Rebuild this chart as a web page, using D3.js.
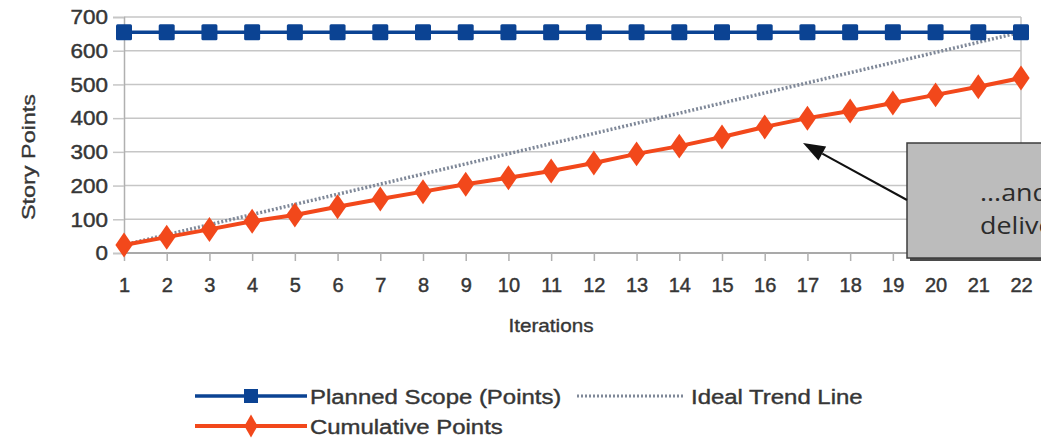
<!DOCTYPE html>
<html>
<head>
<meta charset="utf-8">
<script src="https://cdn.jsdelivr.net/npm/d3@7"></script>
<style>
  html, body { margin: 0; padding: 0; background: #fff; overflow: hidden; }
  svg { display: block; }
</style>
</head>
<body>
<svg id="chart" width="1041" height="439"></svg>
<script>
// Release burn-up: planned scope vs. cumulative delivered story points
const iterations = [1, 2, 3, 4, 5, 6, 7, 8, 9, 10, 11, 12, 13, 14, 15, 16, 17, 18, 19, 20, 21, 22];
const plannedScope = [655, 655, 655, 655, 655, 655, 655, 655, 655, 655, 655,
                      655, 655, 655, 655, 655, 655, 655, 655, 655, 655, 655];
const cumulativePoints = [24, 47, 70, 94, 113, 137, 160, 182, 204, 223, 243,
                          267, 294, 317, 344, 374, 400, 421, 445, 469, 493, 519];
// Ideal trend: straight line from the first iteration to the planned scope at the last
const idealTrendIterations = [1, 22];
const idealTrendValues = [24, 655];
const yTickValues = [0, 100, 200, 300, 400, 500, 600, 700];
const legendLabels = ["Planned Scope (Points)", "Ideal Trend Line", "Cumulative Points"];
const calloutLines = ["...and we\u2019re", "delivering"];

const plot = { left: 124, right: 1021, top: 17, bottom: 253 };
const BLUE = "#0b4393", RED = "#f2481b", TREND = "#7f8898";
const FONT = "'Liberation Sans', Arial, sans-serif";
const INK = "#363636";

const svg = d3.select("#chart");

const x = d3.scalePoint().domain(iterations).range([plot.left, plot.right]);
const y = d3.scaleLinear().domain([0, 700]).range([plot.bottom, plot.top]);

// slightly heavier text, like the anti-aliased original labels
function ink(sel, w) {
  return sel.attr("fill", INK).attr("stroke", INK).attr("stroke-width", w || 0.45);
}

// horizontal gridlines
svg.append("g").selectAll("line").data(yTickValues).join("line")
  .attr("x1", plot.left).attr("x2", plot.right)
  .attr("y1", d => y(d)).attr("y2", d => y(d))
  .attr("stroke", d => d === 0 ? "#a9a9a9" : "#c6c6c6")
  .attr("stroke-width", d => d === 0 ? 2 : 1.5);

// right border of the plot area
svg.append("line")
  .attr("x1", plot.right).attr("x2", plot.right)
  .attr("y1", plot.top).attr("y2", plot.bottom)
  .attr("stroke", "#c6c6c6").attr("stroke-width", 1.5);

// y axis
const yAxis = svg.append("g")
  .attr("transform", `translate(${plot.left},0)`)
  .call(d3.axisLeft(y).tickValues(yTickValues).tickSize(11).tickPadding(5));
yAxis.select(".domain").attr("stroke", "#b0b0b0").attr("stroke-width", 1.5);
yAxis.selectAll(".tick line").attr("stroke", "#c6c6c6").attr("stroke-width", 1.5);
ink(yAxis.selectAll(".tick text"))
  .attr("font-family", FONT).attr("font-size", 21)
  .attr("transform", "scale(1.07,1)").attr("x", -16 / 1.07);

// x axis
const xAxis = svg.append("g")
  .attr("transform", `translate(0,${plot.bottom})`)
  .call(d3.axisBottom(x).tickSize(8).tickPadding(0));
xAxis.select(".domain").remove();
xAxis.selectAll(".tick line").attr("stroke", "#b0b0b0").attr("stroke-width", 1.5);
ink(xAxis.selectAll(".tick text"))
  .attr("font-family", FONT).attr("font-size", 20)
  .attr("y", 25).attr("dy", "0.71em");

// axis titles
ink(svg.append("text"), 0.35)
  .attr("transform", "translate(29,157) rotate(-90) scale(1.3,1)")
  .attr("text-anchor", "middle").attr("dy", "0.35em")
  .attr("font-family", FONT).attr("font-size", 18)
  .text("Story Points");
ink(svg.append("text"), 0.35)
  .attr("transform", "translate(551,326) scale(1.15,1)")
  .attr("text-anchor", "middle").attr("dy", "0.35em")
  .attr("font-family", FONT).attr("font-size", 18)
  .text("Iterations");

// ideal trend line
const trendData = idealTrendIterations.map((it, i) => ({ it, v: idealTrendValues[i] }));
svg.append("path")
  .datum(trendData)
  .attr("d", d3.line().x(d => x(d.it)).y(d => y(d.v)))
  .attr("fill", "none").attr("stroke", TREND)
  .attr("stroke-width", 3.5).attr("stroke-dasharray", "2,2");

// planned scope
const plannedData = iterations.map((it, i) => ({ it, v: plannedScope[i] }));
svg.append("path")
  .datum(plannedData)
  .attr("d", d3.line().x(d => x(d.it)).y(d => y(d.v)))
  .attr("fill", "none").attr("stroke", BLUE).attr("stroke-width", 3.5);
svg.append("g").selectAll("rect").data(plannedData).join("rect")
  .attr("x", d => x(d.it) - 8).attr("y", d => y(d.v) - 8)
  .attr("width", 16).attr("height", 16).attr("rx", 1.5)
  .attr("fill", BLUE);

// cumulative delivered points
const cumData = iterations.map((it, i) => ({ it, v: cumulativePoints[i] }));
svg.append("path")
  .datum(cumData)
  .attr("d", d3.line().x(d => x(d.it)).y(d => y(d.v)))
  .attr("fill", "none").attr("stroke", RED).attr("stroke-width", 4);
const diamond = d3.symbol().type(d3.symbolDiamond).size(180);
svg.append("g").selectAll("path").data(cumData).join("path")
  .attr("transform", d => `translate(${x(d.it)},${y(d.v)}) scale(1.2,1)`)
  .attr("d", diamond).attr("fill", RED);

// callout box with arrow
const callout = svg.append("g");
callout.append("rect")
  .attr("x", 910).attr("y", 146).attr("width", 200).attr("height", 115)
  .attr("fill", "#4a4a4a");
callout.append("rect")
  .attr("x", 907).attr("y", 143).attr("width", 200).attr("height", 115)
  .attr("fill", "#bcbcbc").attr("stroke", "#3c3c3c").attr("stroke-width", 1.5);
callout.selectAll("text.callout").data(calloutLines).join("text")
  .attr("class", "callout")
  .attr("transform", (d, i) => `translate(980,${201 + i * 33}) scale(1.12,1)`)
  .attr("font-family", "'Open Sans', 'Noto Sans', sans-serif")
  .attr("font-size", 24).attr("fill", "#2b2b2b")
  .text(d => d);

const tail = [907, 200], tip = [803, 143];
const ang = Math.atan2(tip[1] - tail[1], tip[0] - tail[0]);
const headLen = 22, headHalf = 8;
const base = [tip[0] - headLen * Math.cos(ang), tip[1] - headLen * Math.sin(ang)];
callout.append("line")
  .attr("x1", tail[0]).attr("y1", tail[1]).attr("x2", base[0]).attr("y2", base[1])
  .attr("stroke", "#111").attr("stroke-width", 2);
callout.append("path")
  .attr("d", d3.line()([
    tip,
    [base[0] + headHalf * Math.sin(ang), base[1] - headHalf * Math.cos(ang)],
    [base[0] - headHalf * Math.sin(ang), base[1] + headHalf * Math.cos(ang)]
  ]) + "Z")
  .attr("fill", "#111");

// legend
const legend = svg.append("g");
function legendText(px, py, label) {
  ink(legend.append("text"), 0.4)
    .attr("transform", `translate(${px},${py}) scale(1.14,1)`)
    .attr("dy", "0.36em")
    .attr("font-family", FONT).attr("font-size", 21)
    .text(label);
}
const row1 = 396, row2 = 426;
legend.append("line").attr("x1", 195).attr("x2", 307).attr("y1", row1).attr("y2", row1)
  .attr("stroke", BLUE).attr("stroke-width", 3.5);
legend.append("rect").attr("x", 244).attr("y", row1 - 7).attr("width", 14).attr("height", 14)
  .attr("fill", BLUE);
legendText(310, row1, legendLabels[0]);

legend.append("line").attr("x1", 577).attr("x2", 683).attr("y1", row1).attr("y2", row1)
  .attr("stroke", TREND).attr("stroke-width", 3).attr("stroke-dasharray", "2,2");
legendText(691, row1, legendLabels[1]);

legend.append("line").attr("x1", 195).attr("x2", 307).attr("y1", row2).attr("y2", row2)
  .attr("stroke", RED).attr("stroke-width", 4);
legend.append("path").attr("transform", `translate(251,${row2})`)
  .attr("d", d3.symbol().type(d3.symbolDiamond).size(150)).attr("fill", RED);
legendText(310, row2, legendLabels[2]);
</script>
</body>
</html>
